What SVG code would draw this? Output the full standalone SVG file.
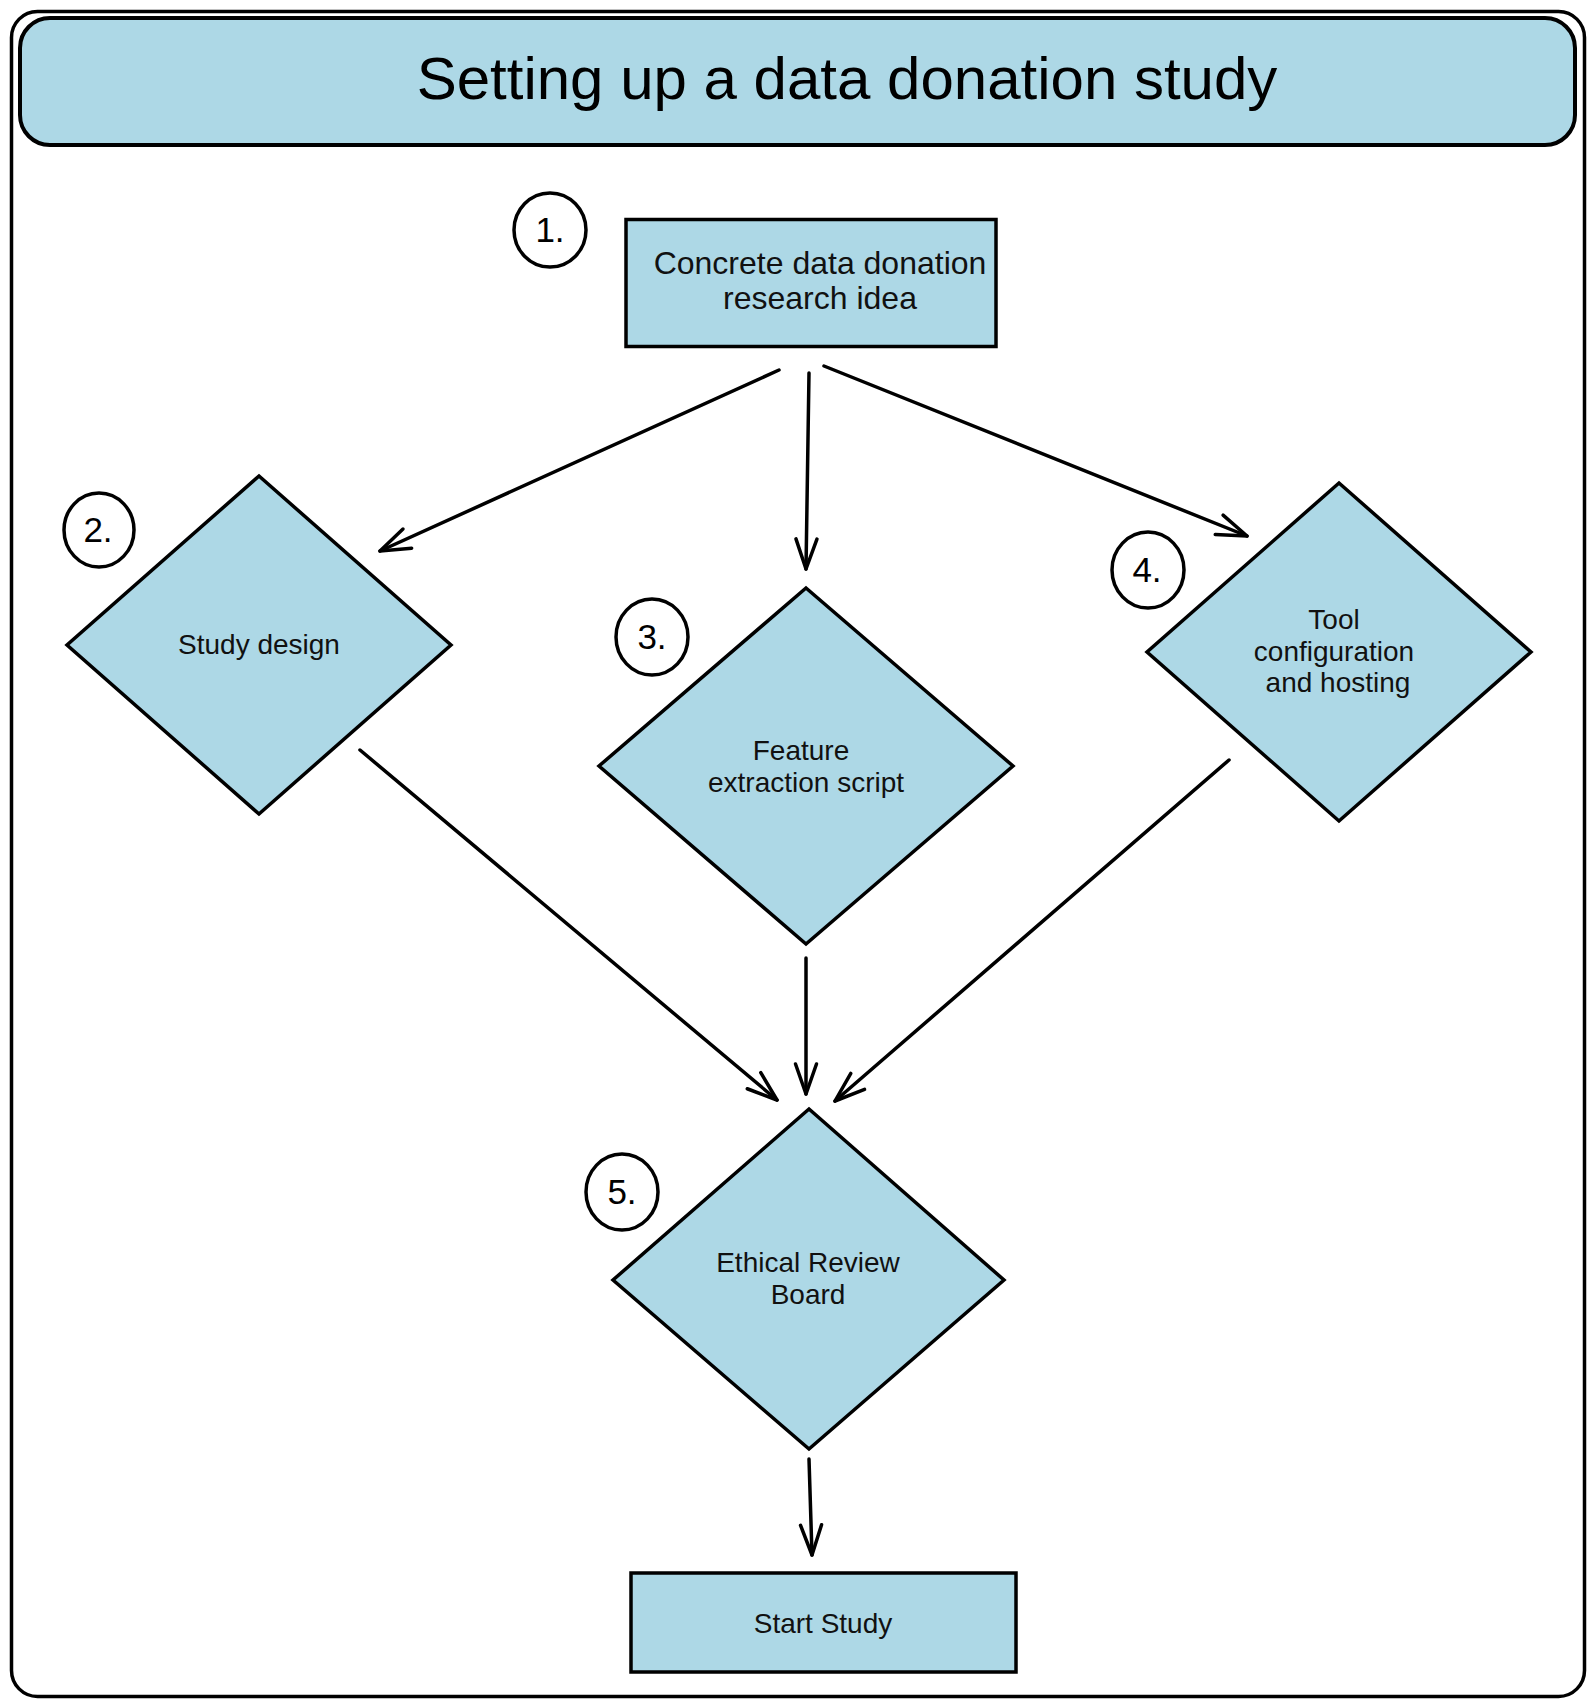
<svg xmlns="http://www.w3.org/2000/svg" width="1594" height="1707" viewBox="0 0 1594 1707">
  <style>
    .shape { fill: #add8e6; stroke: #000; stroke-width: 3.5; stroke-linejoin: miter; }
    .badge { fill: #fff; stroke: #000; stroke-width: 3.5; }
    .lbl { font-family: "Liberation Sans", Arial, sans-serif; font-size: 28px; fill: #111; text-anchor: middle; }
    .big { font-size: 32px; }
    .num { font-family: "Liberation Sans", Arial, sans-serif; font-size: 35px; fill: #000; text-anchor: middle; }
    .title { font-family: "Liberation Sans", Arial, sans-serif; font-size: 60px; fill: #000; text-anchor: middle; }
    .edge { fill: none; stroke: #000; stroke-width: 3.5; stroke-linecap: round; }
  </style>
  <defs>
    <marker id="arrow" markerUnits="userSpaceOnUse" markerWidth="36" markerHeight="26" viewBox="-33 -13 36 26" refX="0" refY="0" orient="auto" overflow="visible">
      <path d="M-30,-10.5 L0,0 L-30,10.5" fill="none" stroke="#000" stroke-width="3.5" stroke-linecap="round" stroke-linejoin="round"/>
    </marker>
  </defs>

  <rect x="0" y="0" width="1594" height="1707" fill="#fff"/>

  <g id="frame">
    <rect x="11.5" y="11.5" width="1573" height="1685" rx="26" ry="26" fill="#fff" stroke="#000" stroke-width="3.5"/>
  </g>

  <g id="title">
    <rect x="20" y="18" width="1555" height="127" rx="30" ry="30" fill="#add8e6" stroke="#000" stroke-width="4"/>
    <text class="title" x="847" y="99">Setting up a data donation study</text>
  </g>

  <g id="connectors">
    <line class="edge" x1="779" y1="370" x2="380" y2="551" marker-end="url(#arrow)"/>
    <line class="edge" x1="809" y1="373" x2="806" y2="569" marker-end="url(#arrow)"/>
    <line class="edge" x1="824" y1="366" x2="1247" y2="536" marker-end="url(#arrow)"/>
    <line class="edge" x1="360" y1="750" x2="777" y2="1100" marker-end="url(#arrow)"/>
    <line class="edge" x1="806" y1="958" x2="806" y2="1094" marker-end="url(#arrow)"/>
    <line class="edge" x1="1229" y1="760" x2="835" y2="1101" marker-end="url(#arrow)"/>
    <line class="edge" x1="809" y1="1459" x2="812" y2="1555" marker-end="url(#arrow)"/>
  </g>

  <g id="node1">
    <rect class="shape" x="626" y="219.5" width="370" height="127"/>
    <text class="lbl big" x="820" y="274">Concrete data donation</text>
    <text class="lbl big" x="820" y="309">research idea</text>
  </g>
  <g id="badge1">
    <ellipse class="badge" cx="550" cy="230" rx="36" ry="37"/>
    <text class="num" x="550" y="242">1.</text>
  </g>

  <g id="node2">
    <polygon class="shape" points="259,476 451,645 259,814 67,645"/>
    <text class="lbl" x="259" y="654">Study design</text>
  </g>
  <g id="badge2">
    <ellipse class="badge" cx="99" cy="530" rx="35" ry="37"/>
    <text class="num" x="98" y="542">2.</text>
  </g>

  <g id="node3">
    <polygon class="shape" points="806,588 1013,766 806,944 599,766"/>
    <text class="lbl" x="801" y="760">Feature</text>
    <text class="lbl" x="806" y="792">extraction script</text>
  </g>
  <g id="badge3">
    <ellipse class="badge" cx="652" cy="637" rx="36" ry="38"/>
    <text class="num" x="652" y="649">3.</text>
  </g>

  <g id="node4">
    <polygon class="shape" points="1339,483 1531,652 1339,821 1147,652"/>
    <text class="lbl" x="1334" y="629">Tool</text>
    <text class="lbl" x="1334" y="661">configuration</text>
    <text class="lbl" x="1338" y="692">and hosting</text>
  </g>
  <g id="badge4">
    <ellipse class="badge" cx="1148" cy="570" rx="36" ry="38"/>
    <text class="num" x="1147" y="582">4.</text>
  </g>

  <g id="node5">
    <polygon class="shape" points="809,1109 1004,1280 809,1449 613,1280"/>
    <text class="lbl" x="808" y="1272">Ethical Review</text>
    <text class="lbl" x="808" y="1304">Board</text>
  </g>
  <g id="badge5">
    <ellipse class="badge" cx="622" cy="1192" rx="36" ry="38"/>
    <text class="num" x="622" y="1204">5.</text>
  </g>

  <g id="node6">
    <rect class="shape" x="631" y="1573" width="385" height="99"/>
    <text class="lbl" x="823" y="1633">Start Study</text>
  </g>
</svg>
